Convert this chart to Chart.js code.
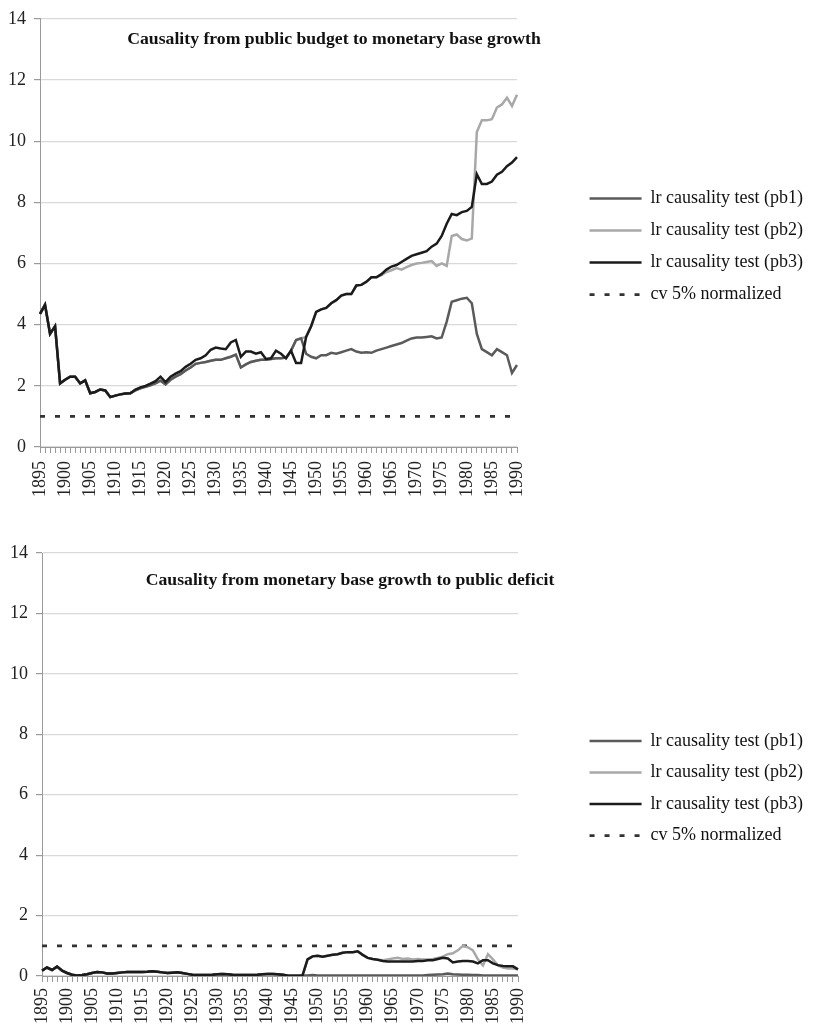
<!DOCTYPE html>
<html>
<head>
<meta charset="utf-8">
<script src="https://cdn.jsdelivr.net/npm/chart.js@4.4.0/dist/chart.umd.min.js"></script>
<style>
  body { margin: 0; background: #fff; }
  canvas { position: absolute; left: 0; }
  #myChart01 { top: 0; }
  #myChart02 { top: 530px; }
</style>
</head>
<body>
<canvas id="myChart01" width="813" height="525"></canvas>
<canvas id="myChart02" width="813" height="500"></canvas>
<script>
var anios = [];
for (var a = 1895; a <= 1990; a++) anios.push(String(a));

var etiquetas = ['lr causality test (pb1)', 'lr causality test (pb2)', 'lr causality test (pb3)', 'cv 5% normalized'];
var titulo_sup = 'Causality from public budget to monetary base growth';
var titulo_inf = 'Causality from monetary base growth to public deficit';

// grafico superior
var sup_pb1 = [
  4.35, 4.65, 3.70, 3.95, 2.08, 2.20, 2.30, 2.30, 2.08, 2.18,
  1.76, 1.80, 1.88, 1.85, 1.63, 1.68, 1.72, 1.75, 1.76, 1.85,
  1.92, 1.97, 2.02, 2.08, 2.17, 2.05, 2.20, 2.30, 2.38, 2.50,
  2.60, 2.72, 2.75, 2.78, 2.82, 2.85, 2.85, 2.90, 2.95, 3.02,
  2.60, 2.70, 2.78, 2.82, 2.85, 2.85, 2.88, 2.90, 2.90, 2.92,
  3.15, 3.50, 3.55, 3.05, 2.95, 2.90, 3.00, 3.00, 3.08, 3.05,
  3.10, 3.15, 3.20, 3.12, 3.08, 3.10, 3.08, 3.15, 3.20, 3.25,
  3.30, 3.35, 3.40, 3.48, 3.55, 3.58, 3.58, 3.60, 3.62, 3.55,
  3.58, 4.10, 4.75, 4.80, 4.85, 4.88, 4.70, 3.70, 3.20, 3.10,
  3.00, 3.20, 3.10, 3.00, 2.42, 2.68
];
var sup_pb2 = [
  4.35, 4.65, 3.70, 3.95, 2.08, 2.20, 2.30, 2.30, 2.08, 2.18,
  1.76, 1.80, 1.88, 1.85, 1.63, 1.68, 1.72, 1.75, 1.76, 1.85,
  1.92, 1.97, 2.02, 2.08, 2.17, 2.05, 2.20, 2.30, 2.38, 2.50,
  2.60, 2.72, 2.75, 2.78, 2.82, 2.85, 2.85, 2.90, 2.95, 3.02,
  2.60, 2.70, 2.78, 2.82, 2.85, 2.85, 2.88, 2.90, 2.90, 2.92,
  3.15, 3.50, 3.55, 3.60, 3.95, 4.42, 4.50, 4.55, 4.70, 4.80,
  4.95, 5.00, 5.00, 5.28, 5.30, 5.40, 5.55, 5.55, 5.62, 5.72,
  5.78, 5.85, 5.80, 5.88, 5.95, 6.00, 6.02, 6.05, 6.08, 5.92,
  6.00, 5.92, 6.90, 6.95, 6.80, 6.75, 6.82, 10.30, 10.68, 10.68,
  10.72, 11.10, 11.20, 11.42, 11.15, 11.52
];
var sup_pb3 = [
  4.35, 4.65, 3.70, 3.95, 2.08, 2.20, 2.30, 2.30, 2.08, 2.18,
  1.76, 1.80, 1.88, 1.85, 1.63, 1.68, 1.72, 1.75, 1.76, 1.88,
  1.95, 2.00, 2.07, 2.15, 2.30, 2.12, 2.30, 2.40, 2.48, 2.62,
  2.72, 2.85, 2.90, 3.00, 3.18, 3.25, 3.22, 3.20, 3.42, 3.50,
  2.95, 3.12, 3.12, 3.05, 3.10, 2.88, 2.90, 3.15, 3.05, 2.90,
  3.15, 2.75, 2.75, 3.60, 3.95, 4.42, 4.50, 4.55, 4.70, 4.80,
  4.95, 5.00, 5.00, 5.28, 5.30, 5.40, 5.55, 5.55, 5.65, 5.80,
  5.90, 5.95, 6.05, 6.15, 6.25, 6.30, 6.35, 6.40, 6.55, 6.65,
  6.90, 7.30, 7.62, 7.58, 7.68, 7.72, 7.85, 8.92, 8.60, 8.60,
  8.68, 8.90, 9.00, 9.18, 9.30, 9.48
];

// grafico inferior
var inf_pb1 = [
  0.18, 0.28, 0.20, 0.31, 0.18, 0.10, 0.04, 0.02, 0.03, 0.06,
  0.10, 0.13, 0.12, 0.08, 0.08, 0.10, 0.12, 0.13, 0.13, 0.13,
  0.13, 0.14, 0.16, 0.14, 0.12, 0.10, 0.11, 0.12, 0.10, 0.07,
  0.04, 0.03, 0.03, 0.03, 0.04, 0.06, 0.07, 0.06, 0.04, 0.03,
  0.03, 0.03, 0.03, 0.04, 0.06, 0.07, 0.07, 0.06, 0.04, 0.02,
  0.01, 0.01, 0.02, 0.02, 0.03, 0.02, 0.02, 0.02, 0.02, 0.02,
  0.02, 0.02, 0.02, 0.02, 0.02, 0.02, 0.02, 0.02, 0.02, 0.02,
  0.02, 0.02, 0.02, 0.02, 0.02, 0.02, 0.02, 0.03, 0.04, 0.05,
  0.06, 0.08, 0.06, 0.05, 0.04, 0.04, 0.03, 0.03, 0.02, 0.02,
  0.02, 0.02, 0.02, 0.02, 0.02, 0.02
];
var inf_pb2 = [
  0.18, 0.28, 0.20, 0.31, 0.18, 0.10, 0.04, 0.02, 0.03, 0.06,
  0.10, 0.13, 0.12, 0.08, 0.08, 0.10, 0.12, 0.13, 0.13, 0.13,
  0.13, 0.14, 0.16, 0.14, 0.12, 0.10, 0.11, 0.12, 0.10, 0.07,
  0.04, 0.03, 0.03, 0.03, 0.04, 0.06, 0.07, 0.06, 0.04, 0.03,
  0.03, 0.03, 0.03, 0.04, 0.06, 0.07, 0.07, 0.06, 0.04, 0.02,
  0.01, 0.01, 0.02, 0.55, 0.65, 0.67, 0.64, 0.67, 0.70, 0.72,
  0.77, 0.79, 0.79, 0.82, 0.70, 0.60, 0.56, 0.54, 0.52, 0.55,
  0.58, 0.60, 0.56, 0.58, 0.55, 0.56, 0.55, 0.55, 0.56, 0.60,
  0.64, 0.72, 0.75, 0.85, 1.00, 0.95, 0.85, 0.55, 0.35, 0.72,
  0.55, 0.35, 0.28, 0.25, 0.25, 0.22
];
var inf_pb3 = [
  0.18, 0.28, 0.20, 0.31, 0.18, 0.10, 0.04, 0.02, 0.03, 0.06,
  0.10, 0.13, 0.12, 0.08, 0.08, 0.10, 0.12, 0.13, 0.13, 0.13,
  0.13, 0.14, 0.16, 0.14, 0.12, 0.10, 0.11, 0.12, 0.10, 0.07,
  0.04, 0.03, 0.03, 0.03, 0.04, 0.06, 0.07, 0.06, 0.04, 0.03,
  0.03, 0.03, 0.03, 0.04, 0.06, 0.07, 0.07, 0.06, 0.04, 0.02,
  0.01, 0.01, 0.02, 0.55, 0.65, 0.67, 0.64, 0.67, 0.70, 0.72,
  0.77, 0.79, 0.79, 0.82, 0.70, 0.60, 0.56, 0.54, 0.50, 0.48,
  0.48, 0.48, 0.48, 0.48, 0.48, 0.50, 0.50, 0.52, 0.52, 0.56,
  0.60, 0.58, 0.45, 0.48, 0.50, 0.50, 0.48, 0.42, 0.52, 0.52,
  0.42, 0.36, 0.33, 0.32, 0.32, 0.22
];

// valor critico normalizado, igual en los dos graficos
var cv5 = [
  1, 1, 1, 1, 1, 1, 1, 1, 1, 1,
  1, 1, 1, 1, 1, 1, 1, 1, 1, 1,
  1, 1, 1, 1, 1, 1, 1, 1, 1, 1,
  1, 1, 1, 1, 1, 1, 1, 1, 1, 1,
  1, 1, 1, 1, 1, 1, 1, 1, 1, 1,
  1, 1, 1, 1, 1, 1, 1, 1, 1, 1,
  1, 1, 1, 1, 1, 1, 1, 1, 1, 1,
  1, 1, 1, 1, 1, 1, 1, 1, 1, 1,
  1, 1, 1, 1, 1, 1, 1, 1, 1, 1,
  1, 1, 1, 1, 1, 1
];

Chart.defaults.font.family = '"Liberation Serif", "Times New Roman", serif';
Chart.defaults.color = '#222';

// titulo dibujado dentro del area del grafico (estilo Excel)
var tituloInterno = {
  id: 'tituloInterno',
  afterDraw: function (chart, args, opts) {
    var ctx = chart.ctx;
    ctx.save();
    ctx.font = 'bold 17.7px "Liberation Serif"';
    ctx.fillStyle = '#111';
    ctx.textAlign = 'center';
    ctx.textBaseline = 'middle';
    ctx.fillText(opts.text, opts.x, opts.y);
    ctx.restore();
  }
};

// la leyenda con pointStyle no toma el guion ni el grosor de la serie
function etiquetas_leyenda(chart) {
  var items = Chart.defaults.plugins.legend.labels.generateLabels(chart);
  items.forEach(function (it) {
    var ds = chart.data.datasets[it.datasetIndex];
    it.lineDash = ds.borderDash || [];
    it.lineWidth = ds.borderWidth;
    it.strokeStyle = ds.borderColor;
  });
  return items;
}

function show_grafico(idCanvas, titulo, s1, s2, s3, lay) {
  var ctx = document.getElementById(idCanvas);

  return new Chart(ctx, {
    type: 'line',
    data: {
      labels: anios,
      datasets: [
        { label: etiquetas[0], data: s1, borderColor: '#5a5a5a', borderWidth: 2.5, order: 1 },
        { label: etiquetas[1], data: s2, borderColor: '#a8a8a8', borderWidth: 2.5, order: 2 },
        { label: etiquetas[2], data: s3, borderColor: '#1b1b1b', borderWidth: 2.5, order: 0 },
        { label: etiquetas[3], data: cv5, borderColor: '#333333', borderWidth: 2.7, borderDash: [5, 10], order: 3 }
      ]
    },
    options: {
      responsive: false,
      animation: false,
      elements: {
        point: { radius: 0 },
        line: { tension: 0, fill: false }
      },
      layout: { padding: { left: 0, top: lay.arriba, right: lay.derPad, bottom: 0 } },
      scales: {
        x: {
          offset: false,
          grid: { display: true, drawOnChartArea: false, drawTicks: true, tickLength: 6, color: '#9a9a9a' },
          border: { display: true, color: '#9a9a9a', width: 1 },
          ticks: {
            autoSkip: false,
            maxRotation: 90,
            minRotation: 90,
            padding: lay.padX,
            color: '#222',
            font: { size: 18 },
            callback: function (v) {
              var t = this.getLabelForValue(v);
              return (Number(t) % 5 === 0) ? t : '';
            }
          },
          afterFit: function (s) { s.height = lay.altoX; }
        },
        y: {
          min: 0,
          max: 14,
          ticks: { stepSize: 2, padding: 8, color: '#222', font: { size: 18 } },
          grid: { color: '#d9d9d9', lineWidth: 1.2, tickLength: 6, tickColor: '#9a9a9a' },
          border: { color: '#9a9a9a' },
          afterFit: function (s) { s.width = lay.izq; }
        },
        y2: {
          position: 'right',
          grid: { display: false },
          border: { display: false },
          ticks: { display: false },
          afterFit: function (s) {
            s.width = s.chart.width - lay.derPad - s.chart.legend.width - lay.der;
          }
        }
      },
      plugins: {
        legend: {
          position: 'right',
          align: 'start',
          maxWidth: 300,
          title: { display: true, text: ' ', font: { size: 18 }, padding: { top: lay.legArriba, bottom: 0 } },
          labels: {
            usePointStyle: true,
            pointStyle: 'line',
            pointStyleWidth: 52,
            padding: lay.legPad,
            color: '#111',
            font: { size: 18 },
            generateLabels: etiquetas_leyenda,
            sort: function (a, b) { return a.datasetIndex - b.datasetIndex; }
          }
        },
        tooltip: { enabled: false },
        tituloInterno: { text: titulo, x: lay.tx, y: lay.ty }
      }
    },
    plugins: [tituloInterno]
  });
}

var myChart1 = show_grafico('myChart01', titulo_sup, sup_pb1, sup_pb2, sup_pb3,
  { arriba: 14, izq: 40, der: 517, derPad: 0, altoX: 78, padX: 8, legArriba: 140, legPad: 14, tx: 334, ty: 39 });

var myChart2 = show_grafico('myChart02', titulo_inf, inf_pb1, inf_pb2, inf_pb3,
  { arriba: 23, izq: 42, der: 518, derPad: 0, altoX: 54, padX: 6, legArriba: 144, legPad: 13.5, tx: 350, ty: 50 });
</script>
</body>
</html>
